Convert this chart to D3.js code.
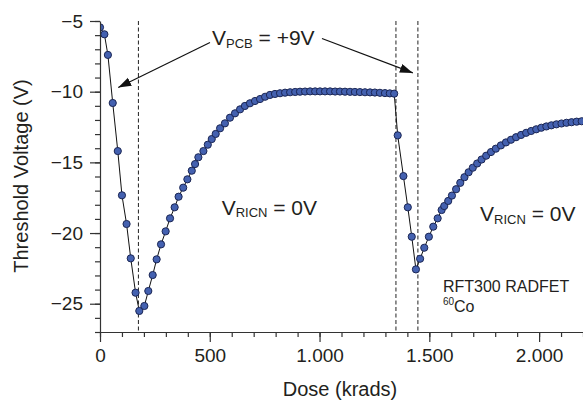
<!DOCTYPE html>
<html>
<head>
<meta charset="utf-8">
<script src="https://cdn.jsdelivr.net/npm/d3@7"></script>
<style>
  body { margin: 0; background: #fff; }
  text { font-family: "Liberation Sans", Arial, sans-serif; fill: #231f20; }
</style>
</head>
<body>
<div id="chart"></div>
<script>
// phase 1: irradiation with V_PCB = +9V
const biasDose1 = [0, 20, 36, 58, 81, 100, 121, 140, 162, 179];
const biasVolt1 = [-5.45, -5.94, -7.4, -10.8, -14.2, -17.33, -19.36, -21.79, -24.22, -25.51];

// phase 2: recovery, V_RICN = 0V
const recDose1 = [202, 220, 240, 258, 278, 299, 319, 340, 358, 379, 398, 418, 433, 448, 471, 491, 509, 527,
    547, 569, 592, 615, 638, 660, 683, 706, 729, 752, 774, 797, 820, 843, 866, 889, 911, 934, 957, 980,
    1002, 1025, 1048, 1071, 1093, 1116, 1139, 1161, 1184, 1207, 1230, 1252, 1275, 1298, 1320, 1340];
const recVolt1 = [-25.16, -24.1, -22.97, -21.86, -20.8, -19.88, -18.96, -18.18, -17.43, -16.79, -16.2, -15.59, -15.12, -14.64, -14.2, -13.75, -13.35, -12.99,
    -12.59, -12.24, -11.84, -11.53, -11.25, -11.01, -10.82, -10.66, -10.52, -10.36, -10.23, -10.16, -10.11, -10.07, -10.04, -10.02, -10.0, -9.99, -9.98, -9.98,
    -9.98, -9.98, -9.98, -9.99, -9.99, -10.0, -10.01, -10.02, -10.03, -10.04, -10.05, -10.06, -10.08, -10.1, -10.12, -10.14];

// phase 3: second irradiation with V_PCB = +9V
const biasDose2 = [1356, 1382, 1402, 1420, 1439];
const biasVolt2 = [-13.09, -15.97, -18.18, -20.26, -22.57];

// phase 4: second recovery
const recDose2 = [1458, 1477, 1498, 1518, 1538, 1556, 1568, 1586, 1603, 1622, 1641, 1660, 1679, 1698, 1718, 1738,
    1759, 1781, 1803, 1826, 1849, 1872, 1895, 1918, 1941, 1964, 1987, 2010, 2033, 2056, 2079, 2102, 2125, 2148, 2171, 2194];
const recVolt2 = [-21.82, -21.04, -20.26, -19.55, -18.96, -18.37, -18.09, -17.73, -17.35, -16.9, -16.45, -16.05, -15.7, -15.38, -15.08, -14.8,
    -14.53, -14.27, -14.03, -13.8, -13.59, -13.4, -13.22, -13.06, -12.91, -12.78, -12.66, -12.55, -12.46, -12.38, -12.31, -12.25, -12.2, -12.16, -12.12, -12.09];

const switchDoses = [175, 1348, 1448];

const xTicks = [0, 500, 1000, 1500, 2000];
const xTickLabels = ["0", "500", "1.000", "1.500", "2.000"];
const yTicks = [-25, -20, -15, -10, -5];
const yTickLabels = ["\u221225", "\u221220", "\u221215", "\u221210", "\u22125"];

const doses = [...biasDose1, ...recDose1, ...biasDose2, ...recDose2];
const volts = [...biasVolt1, ...recVolt1, ...biasVolt2, ...recVolt2];
const data = doses.map((d, i) => ({ dose: d, v: volts[i] }));

const width = 583, height = 401;
const margin = { top: 21, right: 0, bottom: 69, left: 100 };

const svg = d3.select("#chart")
    .append("svg")
    .attr("width", width)
    .attr("height", height);

const x = d3.scaleLinear()
    .domain([0, 2200])
    .range([margin.left, width - margin.right]);

const y = d3.scaleLinear()
    .domain([-27, -5])
    .range([height - margin.bottom, margin.top]);

svg.append("defs").append("clipPath")
    .attr("id", "plot")
    .append("rect")
    .attr("x", margin.left)
    .attr("y", 0)
    .attr("width", width - margin.left)
    .attr("height", height - margin.bottom);

svg.append("defs").append("marker")
    .attr("id", "head")
    .attr("markerUnits", "userSpaceOnUse")
    .attr("markerWidth", 14)
    .attr("markerHeight", 10)
    .attr("refX", 13)
    .attr("refY", 4.5)
    .attr("orient", "auto")
    .append("path")
    .attr("d", "M0,0L13,4.5L0,9Z")
    .attr("fill", "#111");

// dashed switch lines
svg.selectAll(".switch")
    .data(switchDoses)
    .enter()
    .append("line")
    .attr("x1", d => x(d))
    .attr("x2", d => x(d))
    .attr("y1", y(-5))
    .attr("y2", y(-27))
    .attr("stroke", "#222")
    .attr("stroke-width", 1)
    .attr("stroke-dasharray", "4,2.5");

const plot = svg.append("g").attr("clip-path", "url(#plot)");

plot.append("path")
    .datum(data)
    .attr("fill", "none")
    .attr("stroke", "#111")
    .attr("stroke-width", 1)
    .attr("d", d3.line().x(d => x(d.dose)).y(d => y(d.v)));

plot.selectAll(".pt")
    .data(data)
    .enter()
    .append("circle")
    .attr("class", "pt")
    .attr("cx", d => x(d.dose))
    .attr("cy", d => y(d.v))
    .attr("r", 3.6)
    .attr("fill", "#4461b0")
    .attr("stroke", "#1b2654")
    .attr("stroke-width", 1);

// axes
const axisColor = "#333";

const xMinor = svg.append("g")
    .attr("transform", `translate(0,${y(-27)})`)
    .call(d3.axisBottom(x).tickValues(d3.range(0, 2201, 100)).tickSize(5).tickFormat(""));
xMinor.select(".domain").remove();

const xAxis = svg.append("g")
    .attr("transform", `translate(0,${y(-27)})`)
    .call(d3.axisBottom(x).tickValues(xTicks).tickSize(10).tickSizeOuter(0).tickPadding(7)
        .tickFormat((d, i) => xTickLabels[i]));

const yMinor = svg.append("g")
    .attr("transform", `translate(${x(0)},0)`)
    .call(d3.axisLeft(y).tickValues(d3.range(-27, -4, 1)).tickSize(5).tickFormat(""));
yMinor.select(".domain").remove();

const yAxis = svg.append("g")
    .attr("transform", `translate(${x(0)},0)`)
    .call(d3.axisLeft(y).tickValues(yTicks).tickSize(10).tickSizeOuter(0).tickPadding(7)
        .tickFormat((d, i) => yTickLabels[i]));

svg.selectAll(".tick line, .domain")
    .attr("stroke", axisColor)
    .attr("stroke-width", 1.2);

svg.selectAll(".tick text")
    .style("font-family", "'Liberation Sans', Arial, sans-serif")
    .style("font-size", "19px")
    .attr("fill", "#231f20");

// axis titles
svg.append("text")
    .attr("x", 340)
    .attr("y", 396)
    .attr("text-anchor", "middle")
    .style("font-size", "20px")
    .text("Dose (krads)");

svg.append("text")
    .attr("transform", "translate(28,176) rotate(-90)")
    .attr("text-anchor", "middle")
    .style("font-size", "20px")
    .text("Threshold Voltage (V)");

// annotations
function subLabel(px, py, main, sub, rest, size, subSize) {
    const t = svg.append("text")
        .attr("x", px)
        .attr("y", py)
        .style("font-size", size + "px");
    t.append("tspan").text(main);
    t.append("tspan").attr("dy", 2.5).style("font-size", subSize + "px").text(sub);
    t.append("tspan").attr("dy", -2.5).text(rest);
}

subLabel(x(510), y(-6.7), "V", "PCB", " = +9V", 21, 13);
subLabel(x(554), y(-18.72), "V", "RICN", " = 0V", 21, 13);
subLabel(x(1731), y(-19.18), "V", "RICN", " = 0V", 21, 13);

svg.append("text")
    .attr("x", x(1562))
    .attr("y", y(-24.2))
    .style("font-size", "16px")
    .text("RFT300 RADFET");

const co = svg.append("text")
    .attr("x", x(1562))
    .attr("y", y(-25.62))
    .style("font-size", "16px");
co.append("tspan").attr("dy", -7).style("font-size", "10px").text("60");
co.append("tspan").attr("dy", 7).text("Co");

// arrows from V_PCB label to both irradiation phases
svg.append("line")
    .attr("x1", x(501)).attr("y1", y(-6.52))
    .attr("x2", x(83)).attr("y2", y(-9.7))
    .attr("stroke", "#111")
    .attr("stroke-width", 1.2)
    .attr("marker-end", "url(#head)");

svg.append("line")
    .attr("x1", x(1011)).attr("y1", y(-6.24))
    .attr("x2", x(1425)).attr("y2", y(-8.67))
    .attr("stroke", "#111")
    .attr("stroke-width", 1.2)
    .attr("marker-end", "url(#head)");
</script>
</body>
</html>
